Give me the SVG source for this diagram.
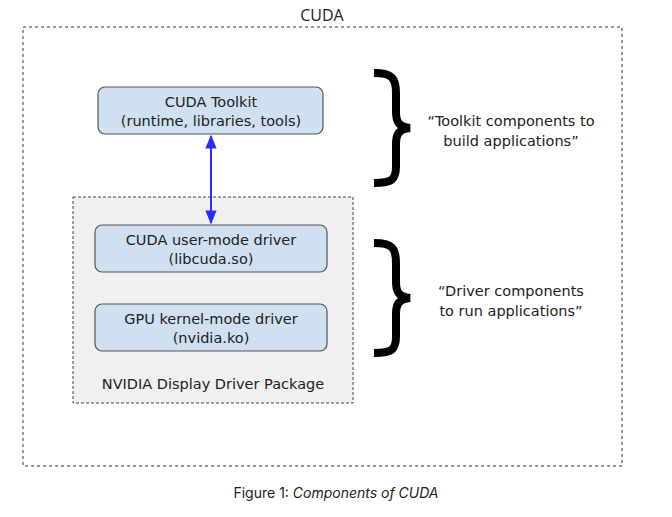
<svg xmlns="http://www.w3.org/2000/svg" width="672" height="517" viewBox="0 0 672 517">
<style>
text{font-family:"DejaVu Sans","Liberation Sans",sans-serif;fill:#222;text-anchor:middle}
.n{fill:#cfe0f0;stroke:#555;stroke-width:1.2}
.t{font-size:14.5px}
.br{fill:none;stroke:#000;stroke-width:8;stroke-linejoin:miter}
</style>
<defs>
<marker id="a" viewBox="0 0 10 10" refX="9" refY="5" markerWidth="7" markerHeight="7" orient="auto-start-reverse"><path d="M0,1L10,5L0,9z" fill="#2b2bff"/></marker>
</defs>
<rect width="672" height="517" fill="#fff"/>
<g id="cuda">
<rect x="23" y="27" width="599" height="439" fill="none" stroke="#333" stroke-dasharray="3,3"/>
<text x="322" y="21" style="font-size:16px;font-family:'Open Sans','Liberation Sans',sans-serif">CUDA</text>
</g>
<g id="package">
<rect x="73" y="197" width="280" height="206" fill="#f0f0f0" stroke="#444" stroke-dasharray="3,2"/>
<text x="213" y="389" class="t">NVIDIA Display Driver Package</text>
</g>
<g id="toolkit">
<rect class="n" x="98" y="87" width="225" height="47" rx="7"/>
<text x="211" y="107" class="t">CUDA Toolkit</text>
<text x="211" y="126" class="t">(runtime, libraries, tools)</text>
</g>
<g id="usermode">
<rect class="n" x="95" y="225" width="232" height="47" rx="7"/>
<text x="211" y="245" class="t">CUDA user-mode driver</text>
<text x="211" y="264" class="t">(libcuda.so)</text>
</g>
<g id="kernelmode">
<rect class="n" x="95" y="304" width="232" height="47" rx="7"/>
<text x="211" y="324" class="t">GPU kernel-mode driver</text>
<text x="211" y="343" class="t">(nvidia.ko)</text>
</g>
<g id="connectors">
<line x1="211" y1="136" x2="211" y2="223" stroke="#2b2bff" stroke-width="2" marker-start="url(#a)" marker-end="url(#a)"/>
</g>
<g id="brace-toolkit">
<path class="br" d="M374,73 C392,73 396,78 396,93 L396,112 C396,122 399,127 410,128 C399,129 396,134 396,144 L396,166 C396,180 392,183 374,183"/>
<text x="511" y="126" class="t">“Toolkit components to</text>
<text x="511" y="146" class="t">build applications”</text>
</g>
<g id="brace-driver">
<path class="br" d="M374,243 C392,243 396,248 396,263 L396,282 C396,292 399,297 410,298 C399,299 396,304 396,314 L396,336 C396,350 392,353 374,353"/>
<text x="511" y="296" class="t">“Driver components</text>
<text x="511" y="316" class="t">to run applications”</text>
</g>
<text x="336" y="498" style="font-size:14px;font-family:'Inter','Liberation Sans',sans-serif">Figure 1: <tspan font-style="italic">Components of CUDA</tspan></text>
</svg>
